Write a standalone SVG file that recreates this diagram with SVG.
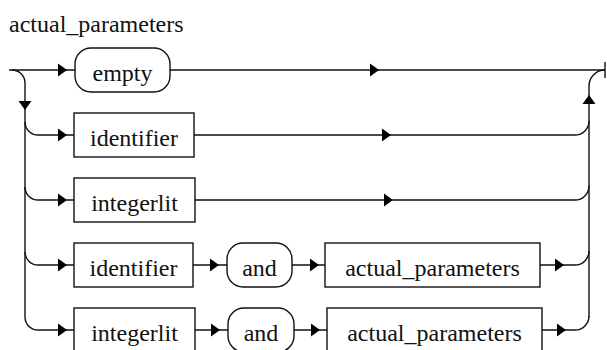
<svg xmlns="http://www.w3.org/2000/svg" width="607" height="350" viewBox="0 0 607 350">
  <style>
    .line { fill: none; stroke: #111; stroke-width: 1.4; }
    .box { fill: #fff; stroke: #111; stroke-width: 1.4; }
    text { font-family: "Liberation Serif", "Times New Roman", Times, "DejaVu Serif", serif; font-size: 24px; fill: #111; }
    .lbl { text-anchor: middle; }
    .arrow { fill: #000; }
  </style>
  <defs>
    <path id="ar" class="arrow" d="M0,0 L-9,-6.5 L-9,6.5 Z"/>
    <path id="ad" class="arrow" d="M0,0 L-6.5,-9 L6.5,-9 Z"/>
    <path id="au" class="arrow" d="M0,0 L-6.5,9 L6.5,9 Z"/>
  </defs>

  <text x="9" y="32">actual_parameters</text>

  <g id="connectors">
    <!-- main track -->
    <path class="line" d="M9,70 H605"/>
    <path class="line" d="M605,62 V78"/>
    <!-- left split -->
    <path class="line" d="M12,70 A13,13 0 0 1 25,83 V317"/>
    <path class="line" d="M25,122 A13,13 0 0 0 38,135 H74"/>
    <path class="line" d="M25,187 A13,13 0 0 0 38,200 H74"/>
    <path class="line" d="M25,252 A13,13 0 0 0 38,265 H74"/>
    <path class="line" d="M25,317 A13,13 0 0 0 38,330 H74"/>
    <!-- right join -->
    <path class="line" d="M589,317 V86 A16,16 0 0 1 605,70"/>
    <path class="line" d="M194,135 H575 A14,14 0 0 0 589,121"/>
    <path class="line" d="M195,200 H575 A14,14 0 0 0 589,186"/>
    <path class="line" d="M540,265 H575 A14,14 0 0 0 589,251"/>
    <path class="line" d="M542,330 H575 A14,14 0 0 0 589,316"/>
    <!-- inner sequences -->
    <path class="line" d="M193,265 H227"/>
    <path class="line" d="M292,265 H325"/>
    <path class="line" d="M195,330 H228"/>
    <path class="line" d="M294,330 H327"/>
    <!-- arrowheads -->
    <use href="#ad" x="25" y="110"/>
    <use href="#au" x="589" y="95"/>
    <use href="#ar" x="67" y="70"/>
    <use href="#ar" x="67" y="135"/>
    <use href="#ar" x="67" y="200"/>
    <use href="#ar" x="67" y="265"/>
    <use href="#ar" x="67" y="330"/>
    <use href="#ar" x="379" y="70"/>
    <use href="#ar" x="391" y="135"/>
    <use href="#ar" x="393" y="200"/>
    <use href="#ar" x="219" y="265"/>
    <use href="#ar" x="319" y="265"/>
    <use href="#ar" x="564" y="265"/>
    <use href="#ar" x="220" y="330"/>
    <use href="#ar" x="320" y="330"/>
    <use href="#ar" x="566" y="330"/>
  </g>

  <g id="empty">
    <rect class="box" x="75" y="48" width="95" height="44" rx="16"/>
    <text class="lbl" x="122.5" y="81">empty</text>
  </g>
  <g id="identifier1">
    <rect class="box" x="74" y="113" width="120" height="44"/>
    <text class="lbl" x="134" y="146">identifier</text>
  </g>
  <g id="integerlit1">
    <rect class="box" x="74" y="178" width="121" height="44"/>
    <text class="lbl" x="134.5" y="211">integerlit</text>
  </g>
  <g id="identifier2">
    <rect class="box" x="74" y="243" width="119" height="44"/>
    <text class="lbl" x="133.5" y="276">identifier</text>
  </g>
  <g id="and1">
    <rect class="box" x="227" y="243" width="65" height="44" rx="16"/>
    <text class="lbl" x="259.5" y="276">and</text>
  </g>
  <g id="actual_parameters1">
    <rect class="box" x="325" y="243" width="215" height="44"/>
    <text class="lbl" x="432.5" y="276">actual_parameters</text>
  </g>
  <g id="integerlit2">
    <rect class="box" x="74" y="308" width="121" height="44"/>
    <text class="lbl" x="134.5" y="341">integerlit</text>
  </g>
  <g id="and2">
    <rect class="box" x="228" y="308" width="66" height="44" rx="16"/>
    <text class="lbl" x="261" y="341">and</text>
  </g>
  <g id="actual_parameters2">
    <rect class="box" x="327" y="308" width="215" height="44"/>
    <text class="lbl" x="434.5" y="341">actual_parameters</text>
  </g>
</svg>
